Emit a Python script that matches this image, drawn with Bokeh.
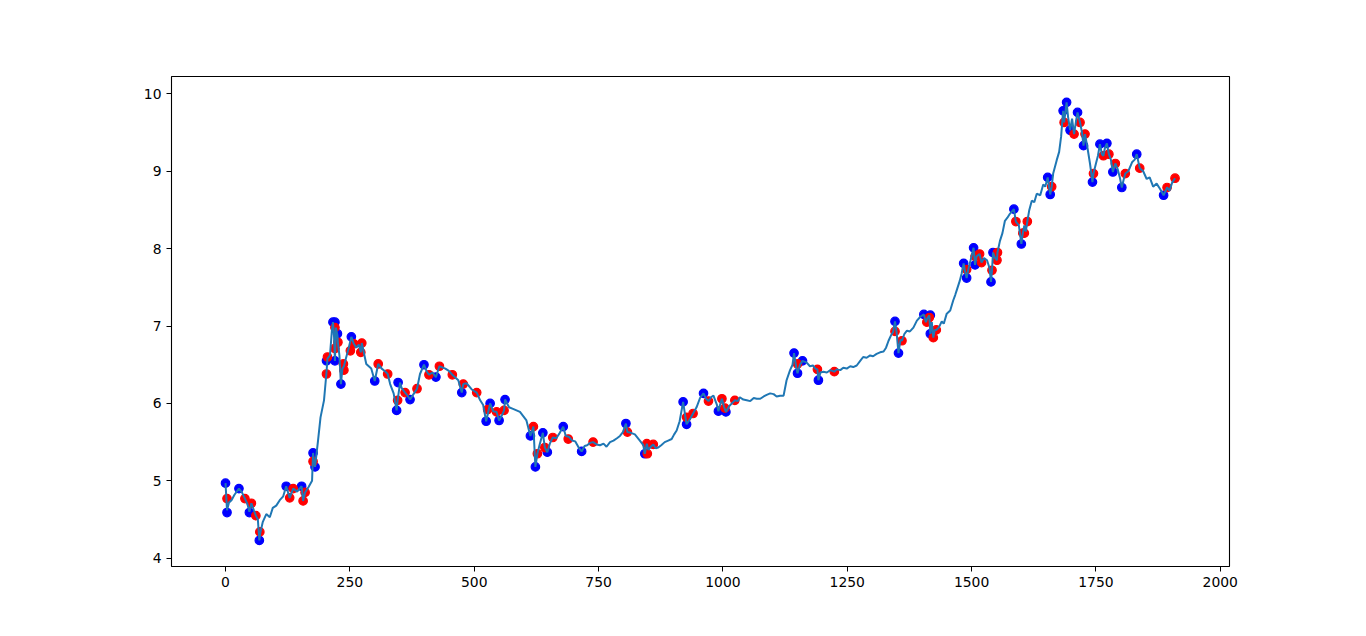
from bokeh.embed import file_html
from bokeh.models import FixedTicker, Range1d
from bokeh.plotting import figure
from bokeh.resources import INLINE

# price series at irregular steps
line_x = [0, 3, 7, 12, 18, 27, 33, 39, 44, 48, 52, 57, 61, 65, 68, 70, 75, 82, 89, 95,
          102, 109, 116, 122, 129, 136, 144, 153, 156, 160, 167, 174, 176, 178, 180, 186, 191, 198,
          203, 205, 210, 214, 216, 218, 220, 222, 225, 226, 229, 232, 235, 238, 242, 247, 253, 258,
          263, 268, 272, 274, 283, 293, 300, 307, 314, 320, 326, 331, 338, 344, 346, 351, 354, 361,
          366, 371, 378, 385, 391, 399, 404, 409, 416, 423, 430, 442, 449, 456, 468, 475, 478, 485,
          495, 505, 512, 518, 524, 532, 538, 545, 550, 556, 560, 562, 570, 578, 592, 605, 613, 619,
          623, 627, 632, 638, 642, 647, 652, 658, 665, 672, 679, 684, 690, 697, 703, 710, 716, 722,
          727, 733, 739, 746, 753, 760, 766, 773, 780, 787, 793, 799, 805, 808, 815, 823, 833, 840,
          843, 847, 850, 855, 860, 865, 870, 876, 883, 890, 897, 902, 907, 913, 920, 924, 927, 934,
          940, 947, 954, 961, 966, 971, 976, 981, 988, 991, 995, 998, 1002, 1006, 1012, 1018, 1024,
          1030, 1034, 1041, 1048, 1055, 1062, 1068, 1075, 1082, 1088, 1095, 1102, 1108, 1115, 1122,
          1128, 1135, 1140, 1143, 1147, 1150, 1155, 1160, 1168, 1175, 1181, 1186, 1190, 1192, 1196,
          1202, 1209, 1216, 1224, 1229, 1236, 1242, 1249, 1256, 1262, 1269, 1276, 1282, 1289, 1296,
          1302, 1309, 1316, 1323, 1328, 1333, 1338, 1342, 1346, 1349, 1353, 1357, 1360, 1365, 1370,
          1376, 1383, 1390, 1397, 1404, 1408, 1411, 1415, 1417, 1420, 1423, 1426, 1429, 1434, 1440,
          1444, 1450, 1457, 1463, 1467, 1471, 1476, 1480, 1484, 1487, 1490, 1494, 1498, 1504, 1507,
          1510, 1516, 1520, 1525, 1531, 1536, 1539, 1541, 1543, 1547, 1551, 1552, 1557, 1562, 1567,
          1572, 1577, 1585, 1589, 1595, 1600, 1603, 1606, 1609, 1612, 1616, 1621, 1626, 1631, 1638,
          1644, 1648, 1653, 1658, 1661, 1664, 1671, 1676, 1680, 1684, 1686, 1691, 1694, 1698, 1702,
          1706, 1710, 1713, 1718, 1722, 1725, 1728, 1733, 1738, 1743, 1745, 1750, 1754, 1758, 1762,
          1765, 1768, 1772, 1776, 1780, 1784, 1789, 1794, 1798, 1802, 1806, 1809, 1815, 1823, 1828,
          1832, 1838, 1845, 1852, 1858, 1865, 1872, 1879, 1886, 1893, 1898, 1903, 1909]
line_y = [4.97, 4.62, 4.72, 4.75, 4.82, 4.90, 4.85, 4.77, 4.70, 4.60, 4.71, 4.62, 4.55, 4.50, 4.23,
          4.33, 4.47, 4.57, 4.53, 4.65, 4.68, 4.75, 4.80, 4.93, 4.78, 4.90, 4.86, 4.93, 4.74, 4.85,
          4.92, 5.00, 5.36, 5.25, 5.18, 5.52, 5.82, 6.04, 6.40, 6.58, 6.62, 6.95, 7.05, 6.90, 6.55,
          6.98, 6.88, 6.78, 6.62, 6.25, 6.45, 6.48, 6.58, 6.70, 6.86, 6.77, 6.72, 6.76, 6.66, 6.78,
          6.51, 6.45, 6.29, 6.51, 6.45, 6.42, 6.38, 6.25, 6.13, 5.91, 6.04, 6.27, 6.20, 6.14, 6.10,
          6.05, 6.12, 6.19, 6.38, 6.50, 6.42, 6.37, 6.40, 6.34, 6.48, 6.45, 6.42, 6.37, 6.30, 6.14,
          6.25, 6.26, 6.18, 6.14, 6.04, 5.98, 5.77, 6.00, 5.90, 5.89, 5.78, 5.85, 5.91, 6.05, 5.95,
          5.93, 5.89, 5.78, 5.58, 5.70, 5.18, 5.35, 5.48, 5.62, 5.43, 5.37, 5.48, 5.56, 5.55, 5.62,
          5.70, 5.58, 5.57, 5.52, 5.51, 5.43, 5.38, 5.45, 5.46, 5.49, 5.50, 5.47, 5.46, 5.48, 5.44,
          5.50, 5.52, 5.55, 5.58, 5.63, 5.74, 5.63, 5.62, 5.60, 5.52, 5.46, 5.35, 5.48, 5.40, 5.44,
          5.47, 5.42, 5.43, 5.46, 5.50, 5.52, 5.54, 5.60, 5.65, 5.77, 6.02, 5.85, 5.73, 5.80, 5.87,
          5.95, 6.07, 6.13, 6.06, 6.03, 6.08, 6.10, 5.98, 5.90, 6.00, 6.06, 5.96, 5.89, 5.96, 6.00,
          6.04, 6.03, 6.08, 6.05, 6.04, 6.03, 6.07, 6.06, 6.06, 6.09, 6.11, 6.13, 6.12, 6.09, 6.10,
          6.10, 6.30, 6.43, 6.50, 6.65, 6.48, 6.39, 6.50, 6.55, 6.53, 6.48, 6.49, 6.45, 6.44, 6.30,
          6.40, 6.41, 6.40, 6.43, 6.41, 6.44, 6.43, 6.46, 6.45, 6.48, 6.47, 6.49, 6.55, 6.60, 6.59,
          6.62, 6.61, 6.64, 6.66, 6.67, 6.72, 6.81, 6.88, 6.92, 7.06, 6.93, 6.65, 6.82, 6.81, 6.90,
          6.94, 6.93, 6.98, 7.07, 7.12, 7.15, 7.05, 7.10, 7.14, 6.90, 7.05, 6.85, 6.95, 6.95, 6.98,
          7.06, 7.03, 7.16, 7.20, 7.33, 7.40, 7.48, 7.58, 7.68, 7.81, 7.70, 7.62, 7.75, 7.85, 8.01,
          7.79, 7.90, 7.93, 7.82, 7.88, 7.85, 7.75, 7.57, 7.72, 7.95, 7.88, 7.85, 7.95, 8.10, 8.20,
          8.36, 8.40, 8.45, 8.51, 8.35, 8.30, 8.06, 8.20, 8.30, 8.22, 8.35, 8.50, 8.62, 8.60, 8.71,
          8.69, 8.83, 8.80, 8.92, 8.70, 8.80, 8.97, 9.14, 9.25, 9.45, 9.78, 9.63, 9.89, 9.70, 9.53,
          9.68, 9.48, 9.65, 9.76, 9.63, 9.50, 9.33, 9.48, 9.30, 9.10, 8.86, 8.97, 9.10, 9.20, 9.35,
          9.22, 9.20, 9.30, 9.36, 9.22, 9.15, 8.99, 9.10, 9.02, 8.92, 8.79, 8.90, 8.97, 9.00, 9.12,
          9.15, 9.22, 9.04, 9.00, 8.90, 8.92, 8.80, 8.84, 8.77, 8.69, 8.79, 8.75, 8.85, 8.91]

# red markers
red_x = [3, 39, 52, 61, 69, 129, 136, 156, 160, 176, 203, 205, 220, 226, 220, 237, 238, 258, 274,
         251, 272, 307, 326, 346, 361, 385, 409, 430, 456, 478, 505, 527, 545, 560, 619, 627, 642,
         658, 689, 739, 808, 847, 848, 860, 927, 940, 971, 998, 1004, 1024, 1150, 1190, 1224, 1346,
         1360, 1415, 1410, 1429, 1423, 1490, 1507, 1516, 1520, 1552, 1551, 1541, 1589, 1612, 1603,
         1606, 1661, 1686, 1706, 1718, 1728, 1745, 1765, 1776, 1789, 1809, 1838, 1893, 1909]
red_y = [4.77, 4.77, 4.71, 4.55, 4.34, 4.78, 4.90, 4.74, 4.85, 5.25, 6.38, 6.60, 6.98, 6.79, 6.71,
         6.51, 6.43, 6.77, 6.78, 6.68, 6.66, 6.51, 6.38, 6.04, 6.14, 6.19, 6.37, 6.48, 6.37, 6.25,
         6.14, 5.92, 5.89, 5.91, 5.70, 5.35, 5.43, 5.56, 5.54, 5.50, 5.63, 5.48, 5.35, 5.47, 5.82,
         5.87, 6.03, 6.06, 5.94, 6.04, 6.51, 6.44, 6.41, 6.93, 6.81, 7.11, 7.05, 6.95, 6.85, 7.73,
         7.90, 7.93, 7.82, 7.95, 7.85, 7.72, 8.35, 8.35, 8.20, 8.20, 8.80, 9.63, 9.48, 9.63, 9.48,
         8.97, 9.20, 9.22, 9.10, 8.97, 9.04, 8.79, 8.91]

# blue markers
blue_x = [0, 3, 27, 48, 68, 122, 153, 176, 180, 203, 216, 220, 225, 220, 232, 253, 300, 347, 344,
          371, 399, 423, 475, 532, 524, 550, 562, 613, 623, 638, 647, 679, 716, 805, 843, 920, 927,
          961, 991, 1006, 1143, 1150, 1160, 1192, 1346, 1353, 1404, 1417, 1417, 1484, 1490, 1504,
          1507, 1543, 1539, 1585, 1600, 1653, 1658, 1684, 1691, 1698, 1713, 1725, 1743, 1758, 1772,
          1784, 1802, 1832, 1886]
blue_y = [4.97, 4.59, 4.90, 4.59, 4.23, 4.93, 4.93, 5.36, 5.18, 6.55, 7.05, 7.05, 6.90, 6.55, 6.25,
          6.86, 6.29, 6.27, 5.91, 6.05, 6.50, 6.34, 6.14, 6.00, 5.77, 5.78, 6.05, 5.58, 5.18, 5.62,
          5.37, 5.70, 5.38, 5.74, 5.35, 6.02, 5.73, 6.13, 5.90, 5.89, 6.65, 6.39, 6.55, 6.30, 7.06,
          6.65, 7.15, 7.14, 6.90, 7.81, 7.62, 8.01, 7.79, 7.95, 7.57, 8.51, 8.06, 8.92, 8.70, 9.78,
          9.89, 9.53, 9.76, 9.33, 8.86, 9.35, 9.36, 8.99, 8.79, 9.22, 8.69]

x_ticks = [0, 250, 500, 750, 1000, 1250, 1500, 1750, 2000]
y_ticks = [4, 5, 6, 7, 8, 9, 10]

p = figure(
    width=1350, height=620,
    x_range=Range1d(-108.6, 2018.5), y_range=Range1d(3.893, 10.224),
    output_backend="svg", toolbar_location=None,
    min_border_left=171, min_border_right=121, min_border_top=76, min_border_bottom=54,
    background_fill_color="white", border_fill_color="white",
)
p.outline_line_color = "black"
p.outline_line_width = 1.1
p.grid.visible = False

p.scatter(blue_x, blue_y, size=8.5, fill_color="#0000ff", line_color="#0000ff", line_width=1.2)
p.scatter(red_x, red_y, size=8.5, fill_color="#ff0000", line_color="#ff0000", line_width=1.2)
p.line(line_x, line_y, line_color="#1f77b4", line_width=2)

p.xaxis.ticker = FixedTicker(ticks=x_ticks)
p.yaxis.ticker = FixedTicker(ticks=y_ticks)
for ax in (p.xaxis[0], p.yaxis[0]):
    ax.axis_line_color = None
    ax.major_tick_in = 0
    ax.major_tick_out = 5
    ax.major_tick_line_color = "black"
    ax.minor_tick_line_color = None
    ax.major_label_text_font = "DejaVu Sans"
    ax.major_label_text_font_size = "13.9px"
    ax.major_label_text_color = "black"
    ax.major_label_standoff = 5

open("out.html", "w").write(file_html(p, INLINE))
